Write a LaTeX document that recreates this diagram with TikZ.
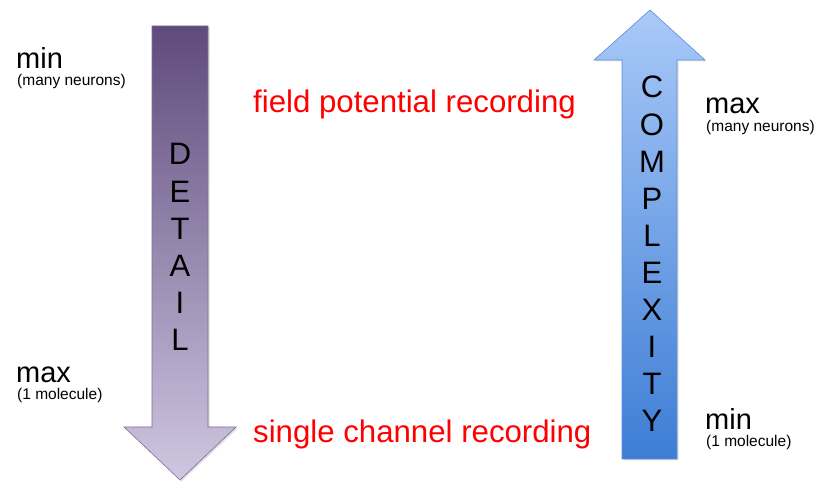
\documentclass[tikz,border=0pt]{standalone}
\usepackage{fontspec}
\setmainfont{Liberation Sans}
\definecolor{dtop}{HTML}{5E4A7C}
\definecolor{dbot}{HTML}{CFC7E1}
\definecolor{dline}{HTML}{7E6F98}
\definecolor{utop}{HTML}{A9C9F8}
\definecolor{ubot}{HTML}{3D7DD5}
\definecolor{uline}{HTML}{5E8FD8}
\definecolor{redtxt}{HTML}{FF0000}
\begin{document}
\begin{tikzpicture}[x=1pt,y=-1pt,
  letter/.style={inner sep=0pt,anchor=base,font=\fontsize{31}{31}\selectfont},
  bigl/.style={inner sep=0pt,anchor=base west,font=\fontsize{29}{29}\selectfont},
  smalll/.style={inner sep=0pt,anchor=base west,font=\fontsize{15.5}{15.5}\selectfont},
  redl/.style={inner sep=0pt,anchor=base west,text=redtxt,font=\fontsize{31.2}{31.2}\selectfont}]
\useasboundingbox (0,0) rectangle (831,486);
% down arrow (DETAIL)
\fill[black!25,opacity=0.5] (153.5,27.5) -- (209.5,27.5) -- (209.5,428.5) -- (237.5,428.5) -- (181.5,481.5) -- (125.5,428.5) -- (153.5,428.5) -- cycle;
\shade[top color=dtop,bottom color=dbot] (152,26) -- (208,26) -- (208,427) -- (236,427) -- (180,480) -- (124,427) -- (152,427) -- cycle;
\draw[dline,line width=0.6pt] (152,26) -- (208,26) -- (208,427) -- (236,427) -- (180,480) -- (124,427) -- (152,427) -- cycle;
% up arrow (COMPLEXITY)
\fill[black!25,opacity=0.5] (651.5,11.5) -- (706.5,61.5) -- (678.5,61.5) -- (678.5,460.5) -- (623.5,460.5) -- (623.5,61.5) -- (594.5,61.5) -- cycle;
\shade[top color=utop,bottom color=ubot] (650,10) -- (705,60) -- (677,60) -- (677,459) -- (622,459) -- (622,60) -- (594,60) -- cycle;
\draw[uline,line width=0.6pt] (650,10) -- (705,60) -- (677,60) -- (677,459) -- (622,459) -- (622,60) -- (594,60) -- cycle;
% letters
\foreach \c [count=\i from 0] in {D,E,T,A,I,L}
  \node[letter] (d\i) at (180,{165+37.2*\i}) {\c};
\foreach \c [count=\i from 0] in {C,O,M,P,L,E,X,I,T,Y}
  \node[letter] (c\i) at (652,{98+37.1*\i}) {\c};
% left labels
\node[bigl] (lmin) at (16,69) {min};
\node[smalll] (lmany) at (17,86) {(many neurons)};
\node[bigl] (lmax) at (16,383) {max};
\node[smalll] (lmol) at (17,400) {(1 molecule)};
% right labels
\node[bigl] (rmax) at (705,114) {max};
\node[smalll] (rmany) at (706,132) {(many neurons)};
\node[bigl] (rmin) at (705,430) {min};
\node[smalll] (rmol) at (706,447) {(1 molecule)};
% red labels
\node[redl] (field) at (253,113) {field potential recording};
\node[redl] (single) at (253,443) {single channel recording};
\end{tikzpicture}
\end{document}
